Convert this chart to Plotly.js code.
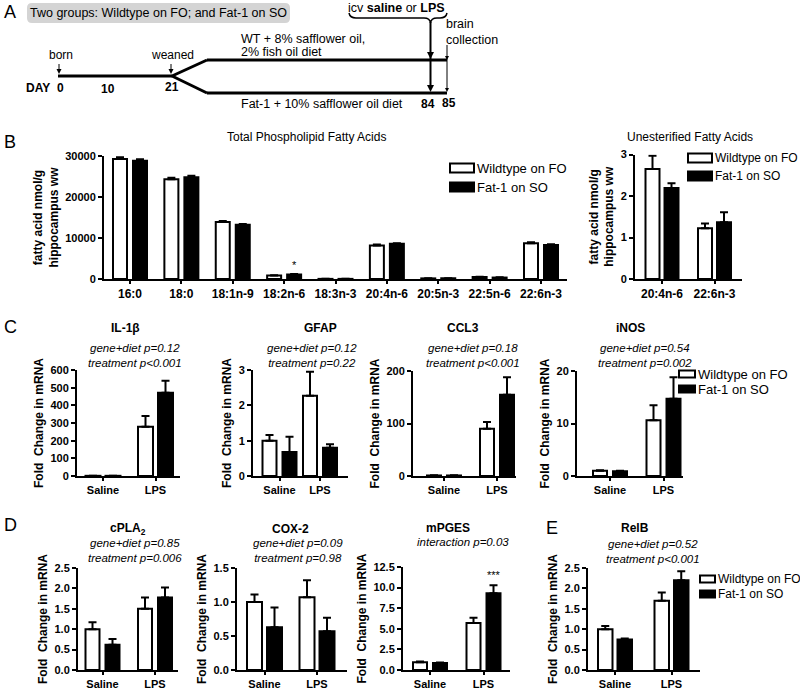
<!DOCTYPE html>
<html><head><meta charset="utf-8">
<script src="https://cdn.plot.ly/plotly-3.0.1.min.js"></script>
<style>html,body{margin:0;padding:0;background:#fff}#chart{width:800px;height:689px}</style>
</head><body><div id="chart"></div>
<script>
// ---------------- DATA ----------------
const fattyAcids = ['16:0','18:0','18:1n-9','18:2n-6','18:3n-3','20:4n-6','20:5n-3','22:5n-6','22:6n-3'];
const totalWT     = [29270, 24300, 13900,  850,  30, 8200, 150, 500, 8700];
const totalWTErr  = [  450,   400,   250,   80,  10,  200,  20,  60,  250];
const totalFat    = [28850, 24800, 13250, 1100,  30, 8600, 180, 350, 8300];
const totalFatErr = [  350,   400,   150,  100,  10,  150,  20,  50,  150];

const unestAcids  = ['20:4n-6','22:6n-3'];
const unestWT     = [2.65, 1.22];
const unestWTErr  = [0.32, 0.12];
const unestFat    = [2.19, 1.37];
const unestFatErr = [0.12, 0.24];

const treatments = ['Saline','LPS'];
const il1bWT = [1, 279],   il1bWTErr = [0.5, 60],  il1bFat = [1, 471],   il1bFatErr = [0.5, 68];
const gfapWT = [1.0, 2.27], gfapWTErr = [0.16, 0.68], gfapFat = [0.68, 0.80], gfapFatErr = [0.43, 0.10];
const ccl3WT = [1, 90],    ccl3WTErr = [0.3, 13],  ccl3Fat = [1, 155],   ccl3FatErr = [0.3, 33];
const inosWT = [1.0, 10.6], inosWTErr = [0.1, 2.9], inosFat = [0.9, 14.7], inosFatErr = [0.1, 4.1];
const cpla2WT = [1.0, 1.50], cpla2WTErr = [0.17, 0.28], cpla2Fat = [0.62, 1.78], cpla2FatErr = [0.14, 0.24];
const cox2WT = [1.0, 1.07], cox2WTErr = [0.11, 0.25], cox2Fat = [0.63, 0.57], cox2FatErr = [0.29, 0.20];
const mpgesWT = [0.95, 5.7], mpgesWTErr = [0.08, 0.65], mpgesFat = [0.85, 9.3], mpgesFatErr = [0.05, 1.0];
const relbWT = [1.0, 1.70], relbWTErr = [0.08, 0.20], relbFat = [0.75, 2.20], relbFatErr = [0.02, 0.22];

const seriesNames = ['Wildtype on FO', 'Fat-1 on SO'];

// ---------------- LAYOUT HELPERS ----------------
const W = 800, H = 689;
const FONT = 'Liberation Sans, Arial, sans-serif';
const X = p => p / W;
const Y = p => 1 - p / H;

const panels = [
  {cats: fattyAcids, wt: totalWT, wtE: totalWTErr, fat: totalFat, fatE: totalFatErr,
   ax: [104, 567], ay: [156, 279], c: [130, 181.375], w: 14, g: 6, ymax: 30000, dtick: 10000, fmt: 'd',
   ytitle: 'fatty acid nmol/g<br>hippocampus ww', xfont: 12},
  {cats: unestAcids, wt: unestWT, wtE: unestWTErr, fat: unestFat, fatE: unestFatErr,
   ax: [635, 742], ay: [154.5, 279], c: [662, 714.5], w: 14, g: 5, ymax: 3, dtick: 1, fmt: 'd',
   ytitle: 'fatty acid nmol/g<br>hippocampus ww', xfont: 12},
  {cats: treatments, wt: il1bWT, wtE: il1bWTErr, fat: il1bFat, fatE: il1bFatErr,
   ax: [77, 180], ay: [370, 476], c: [103, 155.5], w: 15, g: 5, ymax: 600, dtick: 100, fmt: 'd'},
  {cats: treatments, wt: gfapWT, wtE: gfapWTErr, fat: gfapFat, fatE: gfapFatErr,
   ax: [253, 348], ay: [370, 476], c: [279.5, 320], w: 14, g: 6, ymax: 3, dtick: 1, fmt: 'd'},
  {cats: treatments, wt: ccl3WT, wtE: ccl3WTErr, fat: ccl3Fat, fatE: ccl3FatErr,
   ax: [413, 516], ay: [371, 476], c: [444, 497], w: 14, g: 6, ymax: 200, dtick: 100, fmt: 'd'},
  {cats: treatments, wt: inosWT, wtE: inosWTErr, fat: inosFat, fatE: inosFatErr,
   ax: [577, 683], ay: [371, 476], c: [610, 663.5], w: 14, g: 6, ymax: 20, dtick: 10, fmt: 'd'},
  {cats: treatments, wt: cpla2WT, wtE: cpla2WTErr, fat: cpla2Fat, fatE: cpla2FatErr,
   ax: [78, 178], ay: [568, 670], c: [102.5, 155], w: 14, g: 6, ymax: 2.5, dtick: 0.5, fmt: '.1f'},
  {cats: treatments, wt: cox2WT, wtE: cox2WTErr, fat: cox2Fat, fatE: cox2FatErr,
   ax: [237, 347], ay: [568, 670], c: [264.5, 317], w: 15, g: 5, ymax: 1.5, dtick: 0.5, fmt: '.1f'},
  {cats: treatments, wt: mpgesWT, wtE: mpgesWTErr, fat: mpgesFat, fatE: mpgesFatErr,
   ax: [403, 510], ay: [567, 670], c: [430, 483.5], w: 14, g: 6, ymax: 12.5, dtick: 2.5, fmt: '.1f'},
  {cats: treatments, wt: relbWT, wtE: relbWTErr, fat: relbFat, fatE: relbFatErr,
   ax: [588, 700], ay: [568, 670], c: [615, 671.5], w: 14.5, g: 5, ymax: 2.5, dtick: 0.5, fmt: '.1f'}
];

const traces = [];
const layout = {
  width: W, height: H, margin: {l: 0, r: 0, t: 0, b: 0},
  paper_bgcolor: '#fff', plot_bgcolor: 'rgba(0,0,0,0)',
  showlegend: false, barmode: 'overlay',
  font: {family: FONT, color: '#000'},
  shapes: [], annotations: []
};

panels.forEach((p, i) => {
  const n = i === 0 ? '' : String(i + 1);
  const xa = 'x' + n, ya = 'y' + n;
  const ppc = p.c[1] - p.c[0];
  const errBase = {type: 'data', symmetric: false, arrayminus: [], color: '#000', thickness: 2, width: 4};
  traces.push({
    type: 'bar', name: seriesNames[0], x: p.cats, y: p.wt, xaxis: xa, yaxis: ya,
    width: p.w / ppc, offset: -(p.g / 2 + p.w) / ppc,
    marker: {color: '#fff', line: {color: '#000', width: 2}},
    error_y: Object.assign({}, errBase, {array: p.wtE}), hoverinfo: 'skip'
  });
  traces.push({
    type: 'bar', name: seriesNames[1], x: p.cats, y: p.fat, xaxis: xa, yaxis: ya,
    width: p.w / ppc, offset: (p.g / 2) / ppc,
    marker: {color: '#000', line: {color: '#000', width: 2}},
    error_y: Object.assign({}, errBase, {array: p.fatE}), hoverinfo: 'skip'
  });
  const lo = (p.ax[0] - p.c[0]) / ppc, hi = (p.ax[1] - p.c[0]) / ppc;
  layout['xaxis' + n] = {
    domain: [X(p.ax[0]), X(p.ax[1])], anchor: ya, type: 'category', range: [lo, hi],
    showline: true, linewidth: 2, linecolor: '#000', ticks: 'outside', ticklen: 3, tickwidth: 2,
    tickcolor: '#000', showgrid: false, zeroline: false, fixedrange: true,
    tickfont: {family: FONT, size: p.xfont || 11, weight: 'bold', color: '#000'}
  };
  layout['yaxis' + n] = {
    domain: [Y(p.ay[1]), Y(p.ay[0])], anchor: xa, range: [0, p.ymax],
    tick0: 0, dtick: p.dtick, tickformat: p.fmt,
    showline: true, linewidth: 2, linecolor: '#000', ticks: 'outside', ticklen: 4, tickwidth: 2,
    tickcolor: '#000', showgrid: false, zeroline: false, fixedrange: true,
    tickfont: {family: FONT, size: 11, weight: 'bold', color: '#000'},
    title: {text: p.ytitle || 'Fold\u00a0 Change in mRNA', standoff: 4,
            font: {family: FONT, size: 12, weight: 'bold', color: '#000'}}
  };
});

// ---------------- ANNOTATION / SHAPE HELPERS ----------------
function ann(text, x, y, o) {
  o = o || {};
  layout.annotations.push({
    text, x: X(x), y: Y(y), xref: 'paper', yref: 'paper', showarrow: false,
    xanchor: o.xanchor || 'center', yanchor: 'middle', borderpad: 0,
    font: {family: FONT, size: o.size || 12, color: '#000', weight: o.weight || 'normal', style: o.style || 'normal'}
  });
}
function line(x0, y0, x1, y1, w) {
  layout.shapes.push({type: 'line', xref: 'paper', yref: 'paper', x0: X(x0), y0: Y(y0), x1: X(x1), y1: Y(y1),
    line: {color: '#000', width: w || 1}});
}
function rect(x0, y0, x1, y1, fill, lw) {
  layout.shapes.push({type: 'rect', xref: 'paper', yref: 'paper', x0: X(x0), y0: Y(y0), x1: X(x1), y1: Y(y1),
    fillcolor: fill, line: {color: '#000', width: lw}});
}
function path(d, w, fill) {
  layout.shapes.push({type: 'path', xref: 'paper', yref: 'paper', path: d,
    line: {color: fill ? 'rgba(0,0,0,0)' : '#000', width: fill ? 0 : (w || 1)}, fillcolor: fill || 'rgba(0,0,0,0)'});
}
const P = (x, y) => X(x) + ',' + Y(y);
function head(x, tip, hw, h) {
  path('M' + P(x - hw, tip - h) + ' L' + P(x + hw, tip - h) + ' L' + P(x, tip) + ' Z', 0, '#000');
}

// ---------------- PANEL A ----------------
ann('A', 10, 12, {size: 18});
path('M' + P(32, 3) + ' L' + P(285, 3) + ' Q' + P(290, 3) + ' ' + P(290, 8) + ' L' + P(290, 18) + ' Q' + P(290, 23) + ' ' + P(285, 23) +
     ' L' + P(32, 23) + ' Q' + P(27, 23) + ' ' + P(27, 18) + ' L' + P(27, 8) + ' Q' + P(27, 3) + ' ' + P(32, 3) + ' Z', 0, '#d4d4d4');
ann('Two groups: Wildtype on FO; and Fat-1 on SO', 158, 13, {size: 12.5});
line(58, 76, 172, 76, 3);
line(172, 76, 207, 60, 3);
line(172, 76, 207, 93, 3);
line(207, 60, 447, 60, 3);
line(207, 93, 447, 93, 3);
ann('born', 61, 55, {size: 12});
line(59, 64, 59, 70, 1); head(59, 74, 2.5, 5);
ann('weaned', 172, 55, {size: 12});
line(171, 64, 171, 70, 1); head(171, 74, 2.5, 5);
ann('DAY', 38, 88, {size: 12, weight: 'bold'});
ann('0', 60, 88, {size: 12, weight: 'bold'});
ann('10', 108, 89, {size: 12, weight: 'bold'});
ann('21', 172, 87, {size: 12, weight: 'bold'});
ann('84', 428, 104, {size: 12, weight: 'bold'});
ann('85', 449, 103, {size: 12, weight: 'bold'});
ann('WT + 8% safflower oil,', 240, 39, {size: 12.5, xanchor: 'left'});
ann('2% fish oil diet', 240, 52, {size: 12.5, xanchor: 'left'});
ann('Fat-1 + 10% safflower oil diet', 240, 104, {size: 12.5, xanchor: 'left'});
ann('icv <b>saline</b> or <b>LPS</b>', 396, 8, {size: 12.5});
path('M' + P(349, 13) + ' Q' + P(350, 18) + ' ' + P(356, 18) + ' L' + P(424, 18) + ' Q' + P(430, 18) + ' ' + P(430.5, 23) +
     ' Q' + P(431, 18) + ' ' + P(437, 18) + ' L' + P(440, 18) + ' Q' + P(446, 18) + ' ' + P(447, 13), 1.5);
line(430.5, 22, 430.5, 86, 2);
head(430.5, 59, 3.5, 7);
head(430.5, 92, 3.5, 7);
line(447, 45, 447, 88, 1);
head(447, 60, 2, 4);
head(447, 92, 2, 4);
ann('brain', 445, 24, {size: 12.5, xanchor: 'left'});
ann('collection', 445, 40, {size: 12.5, xanchor: 'left'});

// ---------------- PANEL LETTERS & TITLES ----------------
ann('B', 10, 142, {size: 18});
ann('C', 10, 327, {size: 18});
ann('D', 10, 525, {size: 18});
ann('E', 552, 528, {size: 18});
ann('Total Phospholipid Fatty Acids', 306, 137, {size: 12});
ann('Unesterified Fatty Acids', 690, 137, {size: 12});

const titles = [
  ['IL-1β', 125, 328, 'gene+diet p=0.12<br>treatment p<0.001', 135, 355],
  ['GFAP', 320, 328, 'gene+diet p=0.12<br>treatment p=0.22', 312, 355],
  ['CCL3', 463, 328, 'gene+diet p=0.18<br>treatment p<0.001', 473, 355],
  ['iNOS', 630, 328, 'gene+diet p=0.54<br>treatment p=0.002', 645, 355],
  ['cPLA<sub>2</sub>', 128, 529, 'gene+diet p=0.85<br>treatment p=0.006', 135, 550],
  ['COX-2', 290, 529, 'gene+diet p=0.09<br>treatment p=0.98', 298, 550],
  ['mPGES', 448, 528, 'interaction p=0.03', 463, 542],
  ['RelB', 635, 528, 'gene+diet p=0.52<br>treatment p<0.001', 653, 551]
];
titles.forEach(t => {
  ann(t[0], t[1], t[2], {size: 12, weight: 'bold'});
  ann(t[3], t[4], t[5], {size: 11.5, style: 'italic'});
});

// significance marks
layout.annotations.push({text: '*', xref: 'x', yref: 'y', x: fattyAcids[3], y: totalFat[3] + totalFatErr[3],
  xshift: 10, yshift: 1, yanchor: 'bottom', showarrow: false, font: {family: FONT, size: 11, color: '#000'}});
layout.annotations.push({text: '***', xref: 'x9', yref: 'y9', x: treatments[1], y: mpgesFat[1] + mpgesFatErr[1],
  xshift: 10, yshift: 2, yanchor: 'bottom', showarrow: false, font: {family: FONT, size: 11, color: '#000'}});

// ---------------- LEGENDS ----------------
function legend(x, r1, r2, bw, bh, size) {
  rect(x, r1 - bh / 2, x + bw, r1 + bh / 2, '#fff', 2);
  rect(x, r2 - bh / 2, x + bw, r2 + bh / 2, '#000', 2);
  ann(seriesNames[0], x + bw + 2, r1, {size, xanchor: 'left'});
  ann(seriesNames[1], x + bw + 2, r2, {size, xanchor: 'left'});
}
legend(450, 168, 187, 24, 9, 13);
legend(688, 158, 176, 24, 9, 12);
legend(679, 374, 389, 16, 7, 13);
legend(700, 579, 594, 15, 7, 12);

Plotly.newPlot('chart', traces, layout, {staticPlot: true});
</script></body></html>
